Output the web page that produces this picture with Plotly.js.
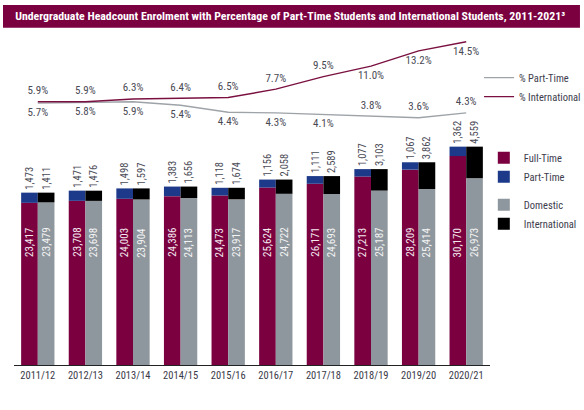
<!DOCTYPE html>
<html>
<head>
<meta charset="utf-8">
<script src="https://cdn.plot.ly/plotly-3.0.1.min.js"></script>
<style>
  html, body { margin:0; padding:0; background:#fff; }
  #chart { width:584px; height:410px; }
</style>
</head>
<body>
<div id="chart"></div>
<script>
(function() {
  // enrolment data
  const years = ['2011/12','2012/13','2013/14','2014/15','2015/16','2016/17','2017/18','2018/19','2019/20','2020/21'];
  const fullTime = [23417, 23708, 24003, 24386, 24473, 25624, 26171, 27213, 28209, 30170];
  const partTime = [1473, 1471, 1498, 1383, 1118, 1156, 1111, 1077, 1067, 1362];
  const domestic = [23479, 23698, 23904, 24113, 23917, 24722, 24693, 25187, 25414, 26973];
  const international = [1411, 1476, 1597, 1656, 1674, 2058, 2589, 3103, 3862, 4559];
  const pctPartTime = [5.7, 5.8, 5.9, 5.4, 4.4, 4.3, 4.1, 3.8, 3.6, 4.3];
  const pctIntl = [5.9, 5.9, 6.3, 6.4, 6.5, 7.7, 9.5, 11.0, 13.2, 14.5];

  const FONT = '"Roboto Condensed", "Liberation Sans Narrow", sans-serif';
  const BURGUNDY = '#7a0040';
  const BLUE = '#1d3a8a';
  const GREY = '#8f979e';
  const TXT = '#4a4a55';

  // intl labels sit above the line until 2017/18, then below (part-time the other way)
  const intlPos = years.map((y, i) => i < 7 ? 'top center' : 'bottom center');
  const ptPos = years.map((y, i) => i < 7 ? 'bottom center' : 'top center');

  const barText = { family: FONT, size: 10.5, color: TXT };
  const lineText = { family: FONT, size: 11, color: TXT };
  const noMarker = { size: 6, color: 'rgba(0,0,0,0)', line: { width: 0 } };

  const traces = [
    {
      x: years, y: fullTime, type: 'bar', name: 'Full-Time',
      offsetgroup: 'a', legend: 'legend2', legendgroup: 'a',
      marker: { color: BURGUNDY }, hoverinfo: 'skip'
    },
    {
      x: years, y: partTime, base: fullTime, type: 'bar', name: 'Part-Time',
      offsetgroup: 'a', legend: 'legend2', legendgroup: 'a',
      marker: { color: BLUE },
      text: partTime.map(v => v.toLocaleString('en-US')),
      textposition: 'outside', textangle: -90, constraintext: 'none',
      textfont: barText, cliponaxis: false, hoverinfo: 'skip'
    },
    {
      x: years, y: domestic, type: 'bar', name: 'Domestic',
      offsetgroup: 'b', legend: 'legend2', legendgroup: 'b',
      marker: { color: GREY }, hoverinfo: 'skip'
    },
    {
      x: years, y: international, base: domestic, type: 'bar', name: 'International',
      offsetgroup: 'b', legend: 'legend2', legendgroup: 'b',
      marker: { color: '#000000' },
      text: international.map(v => v.toLocaleString('en-US')),
      textposition: 'outside', textangle: -90, constraintext: 'none',
      textfont: barText, cliponaxis: false, hoverinfo: 'skip'
    },
    {
      x: years, y: pctPartTime, type: 'scatter', mode: 'lines+markers+text', yaxis: 'y2',
      name: '% Part-Time', line: { color: '#9ea3a8', width: 1.4 },
      marker: noMarker,
      texttemplate: '%{y:.1f}%', textposition: ptPos,
      textfont: lineText, cliponaxis: false, hoverinfo: 'skip'
    },
    {
      x: years, y: pctIntl, type: 'scatter', mode: 'lines+markers+text', yaxis: 'y2',
      name: '% International', line: { color: '#7a1040', width: 1.4 },
      marker: noMarker,
      texttemplate: '%{y:.1f}%', textposition: intlPos,
      textfont: lineText, cliponaxis: false, hoverinfo: 'skip'
    }
  ];

  // white value labels inside the full-time / domestic bars, at a common height
  const annotations = [];
  years.forEach((yr, i) => {
    annotations.push({
      x: yr, xref: 'x', y: 0.37, yref: 'paper', xshift: -8.3,
      text: fullTime[i].toLocaleString('en-US'), textangle: -90, showarrow: false,
      font: { family: FONT, size: 11, color: '#f4e8ee' }
    });
    annotations.push({
      x: yr, xref: 'x', y: 0.37, yref: 'paper', xshift: 8.3,
      text: domestic[i].toLocaleString('en-US'), textangle: -90, showarrow: false,
      font: { family: FONT, size: 11, color: '#f4f4f4' }
    });
  });

  const layout = {
    width: 584, height: 410,
    margin: { l: 14, r: 94, t: 34, b: 45, autoexpand: false },
    paper_bgcolor: '#ffffff', plot_bgcolor: '#ffffff',
    barmode: 'group', bargap: 0.3, bargroupgap: 0,
    title: {
      text: 'Undergraduate Headcount Enrolment with Percentage of Part-Time Students and International Students, 2011-2021³',
      x: 0.026, xref: 'container', xanchor: 'left',
      y: 0.961, yref: 'container', yanchor: 'middle',
      font: { family: FONT, size: 11.8, color: '#ffffff', weight: 'bold' }
    },
    shapes: [{
      type: 'rect', xref: 'paper', yref: 'paper',
      x0: -0.0231, x1: 1.189, y0: 1.019, y1: 1.0876,
      fillcolor: '#7a0040', line: { width: 0 }, layer: 'below'
    }],
    xaxis: {
      type: 'category', range: [-0.5, 9.5],
      showline: true, linecolor: '#222', linewidth: 1,
      showgrid: false, ticks: '',
      tickfont: { family: FONT, size: 10.5, color: '#3a3a48' }
    },
    yaxis: {
      range: [0, 47800], visible: false, showgrid: false, zeroline: false
    },
    yaxis2: {
      overlaying: 'y', range: [-31.83, 15.61], visible: false, showgrid: false, zeroline: false
    },
    showlegend: true,
    legend: {
      x: 0.977, xanchor: 'left', y: 0.912, yanchor: 'top',
      font: { family: FONT, size: 10.5, color: '#3d3d4d' },
      bgcolor: 'rgba(0,0,0,0)', traceorder: 'normal', itemwidth: 30
    },
    legend2: {
      x: 0.987, xanchor: 'left', y: 0.67, yanchor: 'top',
      font: { family: FONT, size: 10.5, color: '#3d3d4d' },
      bgcolor: 'rgba(0,0,0,0)', traceorder: 'grouped', tracegroupgap: 9
    },
    annotations: annotations
  };

  Plotly.newPlot('chart', traces, layout, { displayModeBar: false, staticPlot: true });
})();
</script>
</body>
</html>
